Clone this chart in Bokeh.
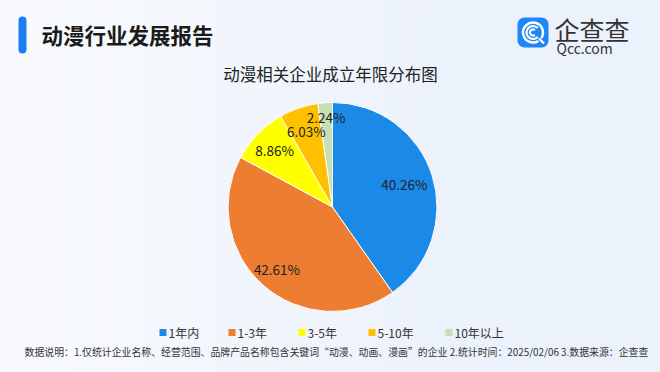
import numpy as np
from bokeh.plotting import figure
from bokeh.models import Range1d
from bokeh.core.properties import value
from bokeh.embed import file_html
from bokeh.resources import INLINE

# ---------------- data ----------------
categories = ["1年内", "1-3年", "3-5年", "5-10年", "10年以上"]
shares = [40.26, 42.61, 8.86, 6.03, 2.24]
colors = ["#1b89e8", "#ed7d31", "#ffff00", "#ffc000", "#c5e0b4"]
header_title = "动漫行业发展报告"
chart_title = "动漫相关企业成立年限分布图"
brand_name = "企查查"
brand_url = "Qcc.com"
footnote = ("数据说明：1.仅统计企业名称、经营范围、品牌产品名称包含关键词“动漫、动画、漫画”的企业"
            "  2.统计时间：2025/02/06   3.数据来源：企查查")

# ---------------- layout / style ----------------
W, H = 660, 372
FONT = value("Noto Sans CJK SC")
label_radius_factor = [0.72, 0.80, 0.775, 0.77, 0.86]


def X(px):
    return px


def Y(py):
    return H - py


p = figure(width=W, height=H, x_range=Range1d(0, W), y_range=Range1d(0, H),
           output_backend="svg", toolbar_location=None, min_border=0,
           x_axis_type=None, y_axis_type=None)
p.grid.visible = False
p.outline_line_color = None
p.background_fill_color = "#eef3fb"
p.border_fill_color = "#eef3fb"

# background gradient
gy, gx = np.mgrid[0:H:2, 0:W:2].astype(float)
t = np.clip(gx / W * 1.6 - 0.1, 0, 1)
light = np.array([248, 250, 253], float)
dark = np.array([236, 242, 252], float)
rgb = light[None, None, :] * (1 - t[..., None]) + dark[None, None, :] * t[..., None]
img = np.empty(gx.shape, dtype=np.uint32)
view = img.view(dtype=np.uint8).reshape(gx.shape + (4,))
view[..., 0] = rgb[..., 0].astype(np.uint8)
view[..., 1] = rgb[..., 1].astype(np.uint8)
view[..., 2] = rgb[..., 2].astype(np.uint8)
view[..., 3] = 255
p.image_rgba(image=[img], x=0, y=0, dw=W, dh=H)

# header
p.quad(left=X(18), right=X(26), top=Y(16), bottom=Y(53), fill_color="#1d7cf2",
       line_color=None, border_radius=4)
p.text(x=X(41), y=Y(34), text=[header_title], text_font=FONT, text_font_size="21.5px",
       text_font_style="bold", text_color="#1a1a1a", text_align="left", text_baseline="middle")

# logo
p.quad(left=X(517), right=X(548), top=Y(17), bottom=Y(47), fill_color="#1f86f5",
       line_color=None, border_radius=7)
lcx, lcy = X(532.5), Y(32)
p.arc(x=lcx, y=lcy, radius=10, start_angle=-0.6, end_angle=-1.0, direction="anticlock",
      line_color="white", line_width=2.4)
p.arc(x=lcx, y=lcy, radius=6.5, start_angle=0.75, end_angle=-0.75, direction="anticlock",
      line_color="white", line_width=2.2)
p.arc(x=lcx, y=lcy, radius=3, start_angle=0.9, end_angle=-0.9, direction="anticlock",
      line_color="white", line_width=2.0)
p.segment(x0=lcx + 6, y0=lcy - 6, x1=lcx + 11, y1=lcy - 11, line_color="white", line_width=2.4)
p.text(x=X(554), y=Y(28), text=[brand_name], text_font=FONT, text_font_size="25px",
       text_color="#333333", text_align="left", text_baseline="middle")
p.text(x=X(556), y=Y(47.5), text=[brand_url], text_font=FONT, text_font_size="14px",
       text_color="#333333", text_align="left", text_baseline="middle")

# chart title
p.text(x=X(330), y=Y(73), text=[chart_title], text_font=FONT, text_font_size="16.5px",
       text_color="#222222", text_align="center", text_baseline="middle")

# pie
cx, cy, R = X(332), Y(206.5), 104.5
frac = np.array(shares) / sum(shares)
cum = np.concatenate([[0.0], np.cumsum(frac)])
start = np.pi / 2 - 2 * np.pi * cum[:-1]
end = np.pi / 2 - 2 * np.pi * cum[1:]
p.wedge(x=cx, y=cy, radius=R, start_angle=list(start), end_angle=list(end),
        direction="clock", fill_color=colors, line_color="white", line_width=1)
mid = (start + end) / 2
lr = R * np.array(label_radius_factor)
p.text(x=list(cx + lr * np.cos(mid)), y=list(cy + lr * np.sin(mid)),
       text=[f"{s:.2f}%" for s in shares], text_font=FONT, text_font_size="13.5px",
       text_color="#222222", text_align="center", text_baseline="middle")

# legend
legend_left = [159, 228, 298, 368, 445]
p.rect(x=[X(v + 3.5) for v in legend_left], y=Y(332), width=7, height=7,
       fill_color=colors, line_color=None)
p.text(x=[X(v + 9) for v in legend_left], y=Y(331.5), text=categories, text_font=FONT,
       text_font_size="12px", text_color="#333333", text_align="left", text_baseline="middle")

# footnote
p.text(x=X(24), y=Y(351.5), text=[footnote], text_font=FONT, text_font_size="9.9px",
       text_color="#333333", text_align="left", text_baseline="middle")

open("out.html", "w").write(file_html(p, INLINE))
